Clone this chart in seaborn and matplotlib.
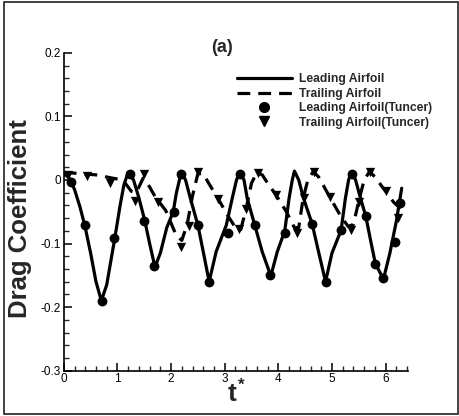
import matplotlib
matplotlib.use("Agg")
import matplotlib.pyplot as plt
import matplotlib.ticker as mticker
from matplotlib.lines import Line2D
from matplotlib.patches import Rectangle
import pandas as pd
import seaborn as sns

# solid curve: leading airfoil (present study)
lead_t = [0.00, 0.10, 0.20, 0.30, 0.39, 0.50, 0.60, 0.70, 0.80, 0.95, 1.05, 1.12, 1.20,
          1.30, 1.40, 1.51, 1.60, 1.70, 1.80, 1.92, 2.04, 2.10, 2.19,
          2.27, 2.36, 2.50, 2.60, 2.71, 2.84, 3.03, 3.14, 3.22, 3.28,
          3.36, 3.42, 3.56, 3.70, 3.86, 3.98, 4.12, 4.20, 4.26, 4.30,
          4.38, 4.47, 4.63, 4.75, 4.88, 5.00, 5.17, 5.25, 5.31, 5.36,
          5.44, 5.52, 5.63, 5.72, 5.81, 5.96, 6.08, 6.20, 6.30]
lead_cd = [0.010, 0.003, -0.015, -0.042, -0.071, -0.115, -0.160, -0.190, -0.165, -0.092, -0.040, -0.008, 0.012,
           0.000, -0.028, -0.064, -0.100, -0.137, -0.115, -0.075, -0.050, -0.020, 0.012,
           0.000, -0.029, -0.071, -0.113, -0.160, -0.113, -0.071, -0.029, 0.000, 0.012,
           0.000, -0.029, -0.071, -0.113, -0.151, -0.113, -0.080, -0.029, 0.000, 0.014,
           0.000, -0.029, -0.069, -0.113, -0.160, -0.115, -0.079, -0.029, 0.000, 0.012,
           0.000, -0.025, -0.057, -0.095, -0.132, -0.156, -0.115, -0.065, -0.013]

# dashed curve: trailing airfoil (present study)
trail_t = [0.00, 0.30, 0.60, 0.90, 1.10, 1.26, 1.35, 1.48, 1.60, 1.70, 1.90, 2.10, 2.20,
           2.30, 2.40, 2.50, 2.60, 2.70, 2.88, 3.05, 3.20, 3.30, 3.40, 3.50, 3.60,
           3.70, 3.80, 3.96, 4.15, 4.30, 4.38, 4.46, 4.55, 4.65, 4.75, 4.96, 5.15,
           5.30, 5.40, 5.50, 5.60, 5.70, 5.80, 6.00, 6.15, 6.28]
trail_cd = [0.012, 0.010, 0.008, 0.003, 0.000, -0.018, -0.020, 0.003, -0.011, -0.026, -0.048, -0.088, -0.095,
            -0.070, -0.025, 0.010, 0.010, -0.005, -0.030, -0.055, -0.075, -0.078, -0.045, -0.005, 0.012,
            0.008, -0.005, -0.024, -0.050, -0.075, -0.075, -0.030, 0.000, 0.013, 0.005, -0.027, -0.055,
            -0.073, -0.070, -0.033, 0.000, 0.013, 0.005, -0.018, -0.035, -0.045]

# Tuncer data, leading airfoil (circles)
tun_lead_t = [0.13, 0.39, 0.71, 0.94, 1.23, 1.50, 1.69, 2.06, 2.19, 2.51, 2.71, 3.07, 3.28,
              3.56, 3.85, 4.13, 4.63, 4.89, 5.17, 5.37, 5.63, 5.81, 5.96, 6.18, 6.27]
tun_lead_cd = [-0.003, -0.071, -0.190, -0.092, 0.010, -0.065, -0.136, -0.051, 0.010, -0.071, -0.161, -0.083, 0.010,
               -0.071, -0.149, -0.083, -0.069, -0.160, -0.079, 0.010, -0.057, -0.132, -0.155, -0.098, -0.036]

# Tuncer data, trailing airfoil (triangles)
tun_trail_t = [0.08, 0.43, 0.86, 1.32, 1.49, 1.75, 2.19, 2.33, 2.50, 2.88, 3.27, 3.40,
               3.63, 3.96, 4.35, 4.47, 4.66, 4.96, 5.36, 5.50, 5.70, 6.01, 6.23]
tun_trail_cd = [0.008, 0.007, -0.004, -0.033, 0.010, -0.035, -0.106, -0.072, 0.013, -0.030, -0.077, -0.045,
                0.011, -0.024, -0.083, -0.028, 0.012, -0.027, -0.078, -0.034, 0.013, -0.018, -0.060]

labels = ["Leading Airfoil", "Trailing Airfoil",
          "Leading Airfoil(Tuncer)", "Trailing Airfoil(Tuncer)"]


def main():
    sns.set_style("ticks")
    plt.rcParams['font.family'] = ['Liberation Sans', 'DejaVu Sans']

    fig = plt.figure(figsize=(4.59, 4.16), dpi=100)
    ax = fig.add_axes([0.139, 0.109, 0.749, 0.764])

    df_lead = pd.DataFrame({"t": lead_t, "cd": lead_cd})
    df_trail = pd.DataFrame({"t": trail_t, "cd": trail_cd})
    df_tl = pd.DataFrame({"t": tun_lead_t, "cd": tun_lead_cd})
    df_tt = pd.DataFrame({"t": tun_trail_t, "cd": tun_trail_cd})

    sns.lineplot(data=df_lead, x="t", y="cd", ax=ax, color="black", lw=2.3,
                 sort=False, estimator=None)
    sns.lineplot(data=df_trail, x="t", y="cd", ax=ax, color="black", lw=2.3,
                 sort=False, estimator=None, linestyle=(0, (4, 2.5)))
    sns.scatterplot(data=df_tl, x="t", y="cd", ax=ax, color="black", marker="o",
                    s=50, edgecolor="black", linewidth=0, zorder=3)
    sns.scatterplot(data=df_tt, x="t", y="cd", ax=ax, color="black", marker="v",
                    s=45, edgecolor="black", linewidth=0, zorder=3)

    ax.set_xlim(0, 6.41)
    ax.set_ylim(-0.3, 0.2)
    ax.xaxis.set_major_locator(mticker.MultipleLocator(1))
    ax.xaxis.set_minor_locator(mticker.MultipleLocator(0.2))
    ax.yaxis.set_major_locator(mticker.MultipleLocator(0.1))
    ax.yaxis.set_minor_locator(mticker.MultipleLocator(0.02))
    ax.yaxis.set_major_formatter(mticker.FuncFormatter(
        lambda v, p: "0" if abs(v) < 1e-9 else "%g" % round(v, 1)))
    ax.tick_params(which="major", direction="in", length=6, width=1.1,
                   labelsize=8.5, colors="black", pad=2)
    ax.tick_params(which="minor", direction="in", length=3.5, width=1.0)
    for side in ["top", "right"]:
        ax.spines[side].set_visible(False)
    for side in ["left", "bottom"]:
        ax.spines[side].set_linewidth(1.2)
        ax.spines[side].set_color("black")

    ax.set_ylabel("Drag Coefficient", fontsize=18.5, fontweight="bold")
    ax.yaxis.set_label_coords(-0.093, 0.48)
    ax.set_xlabel("t", fontsize=19, fontweight="bold")
    ax.xaxis.set_label_coords(0.488, -0.035)
    ax.text(0.515, -0.022, "*", transform=ax.transAxes, fontsize=12,
            fontweight="bold", ha="center", va="top")

    fig.text(0.484, 0.887, "(a)", fontsize=13, fontweight="bold",
             ha="center", va="center")

    handles = [
        Line2D([], [], color="black", lw=2.3),
        Line2D([], [], color="black", lw=2.3, linestyle=(0, (4, 2.5))),
        Line2D([], [], color="black", marker="o", linestyle="none", markersize=7),
        Line2D([], [], color="black", marker="v", linestyle="none", markersize=6.5),
    ]
    leg = ax.legend(handles, labels, loc="upper left",
                    bbox_to_anchor=(0.505, 0.835), bbox_transform=fig.transFigure,
                    frameon=False, fontsize=8.7, handlelength=4.6,
                    handletextpad=0.6, labelspacing=0.2, borderaxespad=0)
    plt.setp(leg.get_texts(), fontweight="bold")

    fig.patches.append(Rectangle((0.008, 0.006), 0.99, 0.988, fill=False,
                                 edgecolor="#222222", lw=1.2,
                                 transform=fig.transFigure))

    fig.savefig("out.png", dpi=100)
    plt.close()


if __name__ == "__main__":
    main()
